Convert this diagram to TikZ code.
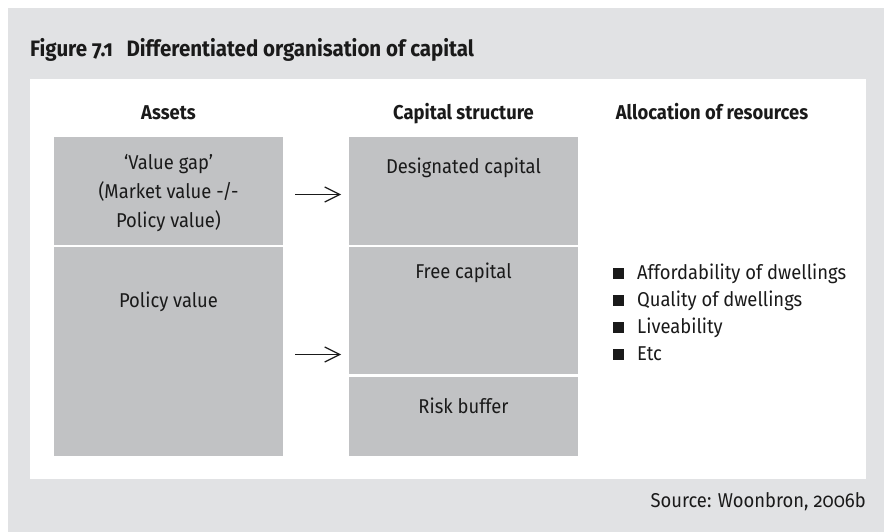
\documentclass[tikz,border=0pt]{standalone}
\usepackage{fontspec}
\setmainfont{Fira Sans}[Numbers=OldStyle, FakeStretch=0.92]
\usetikzlibrary{arrows.meta}
\definecolor{outergray}{HTML}{E1E2E4}
\definecolor{boxgray}{HTML}{C1C2C4}
\definecolor{ink}{HTML}{1A1A1A}
\begin{document}
\begin{tikzpicture}[x=1pt,y=-1pt,
  box/.style={fill=boxgray, draw=none, inner sep=0pt, outer sep=0pt, anchor=north west, minimum width=229pt},
  txt/.style={inner sep=0pt, anchor=base, text=ink, font=\fontsize{20}{28}\selectfont},
  head/.style={inner sep=0pt, anchor=base, text=ink, font=\fontsize{20}{28}\selectfont\bfseries},
  bul/.style={inner sep=0pt, anchor=base west, text=ink, font=\fontsize{20}{28}\selectfont},
  sq/.style={fill=ink, draw=none, minimum size=10.5pt, inner sep=0pt},
  arr/.style={draw=ink, line width=1.2pt, -{Straight Barb[length=15pt,width=15pt,line width=1.2pt]}}
]
\useasboundingbox (0,0) rectangle (884,532);
\fill[white] (0,0) rectangle (884,532);
\fill[outergray] (8,8) rectangle (884,532);
\fill[white] (30,79) rectangle (866,479);
% title
\node[inner sep=0pt, anchor=base west, text=ink, font=\fontsize{22.3}{26}\selectfont\bfseries] (title) at (30,57) {Figure 7.1\hspace{0.4em} Differentiated organisation of capital};
% headings
\node[head] (hA) at (168.5,120) {Assets};
\node[head] (hC) at (463.5,120) {Capital structure};
\node[head] (hR) at (712,120) {Allocation of resources};
% boxes
\node[box, minimum height=107.5pt] (vg) at (54,137) {};
\node[box, minimum height=209.5pt] (pv) at (54,246.5) {};
\node[box, minimum height=107.5pt] (dc) at (349,137) {};
\node[box, minimum height=127pt] (fc) at (349,246.5) {};
\node[box, minimum height=79.5pt] (rb) at (349,376.5) {};
% box texts
\node[txt] (t1) at (168.5,170) {‘Value gap’};
\node[txt] (t2) at (168.5,198.5) {(Market value -/-};
\node[txt] (t3) at (168.5,227) {Policy value)};
\node[txt] (t4) at (168.5,307) {Policy value};
\node[txt] (t5) at (463.5,174) {Designated capital};
\node[txt] (t6) at (463.5,278) {Free capital};
\node[txt] (t7) at (463.5,413) {Risk buffer};
% arrows
\coordinate (a1s) at (295,194.5);
\coordinate (a1e) at (341,194.5);
\coordinate (a2s) at (295,354.5);
\coordinate (a2e) at (341,354.5);
\draw[arr] (a1s) -- (a1e);
\draw[arr] (a2s) -- (a2e);
% bullets
\node[sq] (s1) at (618.5,273.5) {};
\node[sq] (s2) at (618.5,300.5) {};
\node[sq] (s3) at (618.5,327.5) {};
\node[sq] (s4) at (618.5,354.5) {};
\node[bul] (b1) at (637,279) {Affordability of dwellings};
\node[bul] (b2) at (637,306) {Quality of dwellings};
\node[bul] (b3) at (637,333) {Liveability};
\node[bul] (b4) at (637,360) {Etc};
% source
\node[inner sep=0pt, anchor=base east, text=ink, font=\fontsize{20}{24}\selectfont] (src) at (866,507) {Source: Woonbron, 2006b};
\end{tikzpicture}
\end{document}
